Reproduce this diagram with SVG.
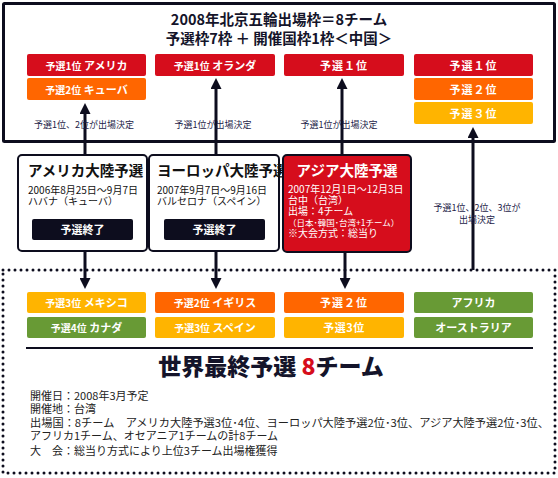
<svg xmlns="http://www.w3.org/2000/svg" width="558" height="478" viewBox="0 0 558 478">
<style>
text{font-family:"Noto Sans CJK JP","Noto Sans",sans-serif;}
.b{font-weight:bold;fill:#fff;font-size:11px;text-anchor:middle;}
.b .s{font-size:10px;}
.t{font-weight:bold;fill:#14142a;text-anchor:middle;font-size:14.5px;}
.lab{fill:#1c1c48;font-size:9px;text-anchor:middle;}
.sub{fill:#111;font-size:10px;}
.red{fill:#d60d1c;}.org{fill:#ff6600;}.amb{fill:#ffb400;}.grn{fill:#689a35;}
.ln{stroke:#0d0d1e;stroke-width:3;fill:none;}
.info{fill:#222;font-size:11px;}
</style>
<defs>
<marker id="ah" markerUnits="userSpaceOnUse" markerWidth="11" markerHeight="11" refX="0" refY="5.5" orient="auto"><path d="M0,0 L11,5.5 L0,11 z" fill="#0d0d1e"/></marker>
</defs>
<rect width="558" height="478" fill="#fff"/>
<g id="top-frame">
<rect x="3.5" y="3.5" width="551" height="138" fill="none" stroke="#0d0d1e" stroke-width="3" rx="1"/>
<text class="t" x="279" y="25">2008年北京五輪出場枠＝8チーム</text>
<text class="t" x="279" y="44">予選枠7枠 ＋ 開催国枠1枠＜中国＞</text>
</g>
<g id="top-boxes">
<rect class="red" x="27" y="54" width="119" height="22" rx="2"/>
<text class="b" x="86.5" y="69.5"><tspan class="s">予選1位</tspan> アメリカ</text>
<rect class="org" x="27" y="78" width="119" height="22" rx="2"/>
<text class="b" x="86.5" y="93.5"><tspan class="s">予選2位</tspan> キューバ</text>
<rect class="red" x="155" y="54" width="120" height="22" rx="2"/>
<text class="b" x="215" y="69.5"><tspan class="s">予選1位</tspan> オランダ</text>
<rect class="red" x="284" y="54" width="120" height="22" rx="2"/>
<text class="b" x="344" y="69.5" letter-spacing="1">予選１位</text>
<rect class="red" x="414" y="54" width="119" height="22" rx="2"/>
<text class="b" x="473.5" y="69.5" letter-spacing="1">予選１位</text>
<rect class="org" x="414" y="78" width="119" height="22" rx="2"/>
<text class="b" x="473.5" y="93.5" letter-spacing="1">予選２位</text>
<rect class="amb" x="414" y="102" width="119" height="22" rx="2"/>
<text class="b" x="473.5" y="117.5" letter-spacing="1">予選３位</text>
</g>
<g id="connectors">
<line class="ln" x1="85" y1="155" x2="85" y2="114" marker-end="url(#ah)"/>
<line class="ln" x1="85" y1="252" x2="85" y2="278" marker-end="url(#ah)"/>
<line class="ln" x1="216" y1="155" x2="216" y2="89" marker-end="url(#ah)"/>
<line class="ln" x1="216" y1="252" x2="216" y2="278" marker-end="url(#ah)"/>
<line class="ln" x1="342" y1="155" x2="342" y2="89" marker-end="url(#ah)"/>
<line class="ln" x1="345" y1="253" x2="345" y2="278" marker-end="url(#ah)"/>
<line class="ln" x1="473" y1="270" x2="473" y2="138" marker-end="url(#ah)"/>
<text class="lab" x="84" y="128">予選1位、2位が出場決定</text>
<text class="lab" x="213" y="128">予選1位が出場決定</text>
<text class="lab" x="339" y="128">予選1位が出場決定</text>
<text class="lab" x="477" y="211">予選1位、2位、3位が</text>
<text class="lab" x="477" y="223">出場決定</text>
</g>
<g id="america">
<rect x="18" y="155" width="129" height="96" rx="4" fill="#fff" stroke="#0d0d1e" stroke-width="2"/>
<text x="28" y="176" font-size="14.5" font-weight="bold" fill="#111">アメリカ大陸予選</text>
<text class="sub" x="28" y="194">2006年8月25日～9月7日</text>
<text class="sub" x="28" y="205">ハバナ（キューバ）</text>
<rect x="32" y="219" width="101" height="21" rx="2" fill="#0d0d1e"/>
<text class="b" x="82.5" y="233.5">予選終了</text>
</g>
<g id="europe">
<rect x="149" y="155" width="130" height="96" rx="4" fill="#fff" stroke="#0d0d1e" stroke-width="2"/>
<text x="157" y="176" font-size="14.5" font-weight="bold" fill="#111">ヨーロッパ大陸予選</text>
<text class="sub" x="157" y="194">2007年9月7日～9月16日</text>
<text class="sub" x="157" y="205">バルセロナ（スペイン）</text>
<rect x="164" y="219" width="101" height="21" rx="2" fill="#0d0d1e"/>
<text class="b" x="214.5" y="233.5">予選終了</text>
</g>
<g id="asia">
<rect x="283" y="155" width="128" height="97" rx="4" fill="#d60d1c" stroke="#0d0d1e" stroke-width="2"/>
<text x="347" y="176" font-size="14.5" font-weight="bold" fill="#fff" text-anchor="middle">アジア大陸予選</text>
<text x="288" y="193" font-size="10" fill="#fff">2007年12月1日～12月3日</text>
<text x="288" y="204" font-size="10" fill="#fff">台中（台湾）</text>
<text x="288" y="215" font-size="10" fill="#fff">出場：4チーム</text>
<text x="288" y="226" font-size="8.5" fill="#fff">（日本･韓国･台湾+1チーム）</text>
<text x="288" y="237" font-size="10" fill="#fff">※大会方式：総当り</text>
</g>
<g id="final">
<rect x="3" y="270" width="552" height="203" fill="none" stroke="#0d0d1e" stroke-width="3" stroke-dasharray="0 6" stroke-linecap="round"/>
<rect class="amb" x="27" y="292" width="119" height="21" rx="2"/>
<text class="b" x="86.5" y="307"><tspan class="s">予選3位</tspan> メキシコ</text>
<rect class="grn" x="27" y="317" width="119" height="21" rx="2"/>
<text class="b" x="86.5" y="332"><tspan class="s">予選4位</tspan> カナダ</text>
<rect class="org" x="155" y="292" width="120" height="21" rx="2"/>
<text class="b" x="215" y="307"><tspan class="s">予選2位</tspan> イギリス</text>
<rect class="amb" x="155" y="317" width="120" height="21" rx="2"/>
<text class="b" x="215" y="332"><tspan class="s">予選3位</tspan> スペイン</text>
<rect class="org" x="284" y="292" width="120" height="21" rx="2"/>
<text class="b" x="344" y="307" letter-spacing="1">予選２位</text>
<rect class="amb" x="284" y="317" width="120" height="21" rx="2"/>
<text class="b" x="344" y="332" letter-spacing="0.5">予選3位</text>
<rect class="grn" x="414" y="292" width="119" height="21" rx="2"/>
<text class="b" x="473.5" y="307">アフリカ</text>
<rect class="grn" x="414" y="317" width="119" height="21" rx="2"/>
<text class="b" x="473.5" y="332">オーストラリア</text>
<line x1="26" y1="348" x2="533" y2="348" stroke="#0d0d1e" stroke-width="2"/>
<text x="271" y="375" font-size="23" font-weight="900" fill="#14142a" text-anchor="middle">世界最終予選 <tspan fill="#d60d1c">8</tspan>チーム</text>
<text class="info" x="30" y="400">開催日：2008年3月予定</text>
<text class="info" x="30" y="413">開催地：台湾</text>
<text class="info" x="30" y="427" textLength="519" lengthAdjust="spacingAndGlyphs">出場国：8チーム　アメリカ大陸予選3位･4位、ヨーロッパ大陸予選2位･3位、アジア大陸予選2位･3位、</text>
<text class="info" x="30" y="440">アフリカ1チーム、オセアニア1チームの計8チーム</text>
<text class="info" x="30" y="455">大　会：総当り方式により上位3チーム出場権獲得</text>
</g>
</svg>
